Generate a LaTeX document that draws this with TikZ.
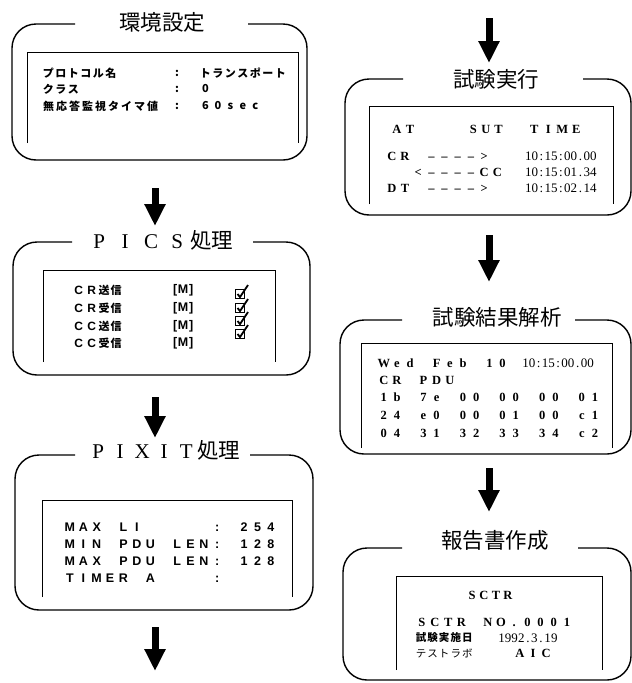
\documentclass[tikz,border=0pt]{standalone}
\usepackage{fontspec}
\usetikzlibrary{arrows.meta}
\setmainfont{Liberation Serif}
\setsansfont{Liberation Sans}
\newfontfamily\jp{Noto Sans CJK JP}
\newlength\fwd
\makeatletter
\def\fw@loop#1{\ifx#1\relax\else\makebox[\fwd][c]{#1}\expandafter\fw@loop\fi}
\newcommand\FW[2]{\setlength\fwd{#1}\fw@loop#2\relax}
\makeatother
\newcommand\fsz[1]{\fontsize{#1}{#1}\selectfont}
\tikzset{
  frame/.style={line width=1.4pt, rounded corners=24pt},
  innerbox/.style={line width=1pt},
  title/.style={inner sep=0pt, font=\jp\fsz{21.5}},
  txt/.style={anchor=west, inner sep=0pt},
  bigarrow/.style={line width=7pt, -{Triangle[width=20pt,length=22pt]}},
  chk/.style={draw, line width=1.5pt, minimum size=9pt, inner sep=0pt},
  chkmark/.style={line width=1.8pt},
  jpb/.style={font=\jp\bfseries\fsz{11}},
  ser/.style={font=\rmfamily\bfseries\fsz{12.5}},
  serr/.style={font=\rmfamily\fsz{13}},
  san/.style={font=\sffamily\bfseries\fsz{12.5}},
}
\begin{document}
\begin{tikzpicture}[x=1pt,y=-1pt]
\useasboundingbox (0,0) rectangle (632,683);

% ---------- Box 1 ----------
\draw[frame] (75,24) -- (12,24) -- (12,160) -- (307,160) -- (307,24) -- (248,24);
\draw[innerbox] (27,143) -- (27,52) -- (298,52) -- (298,143);
\node[title] (t1) at (162,22) {環境設定};
\node[txt,jpb] (b1r1a) at (42,73) {\FW{12.5pt}{プロトコル名}};
\node[txt,jpb] (b1r1b) at (175,73) {:};
\node[txt,jpb] (b1r1c) at (199,73) {\FW{12.5pt}{トランスポート}};
\node[txt,jpb] (b1r2a) at (42,89) {\FW{12.5pt}{クラス}};
\node[txt,jpb] (b1r2b) at (175,89) {:};
\node[txt,jpb] (b1r2c) at (199,89) {\FW{12.5pt}{0}};
\node[txt,jpb] (b1r3a) at (42,106) {\FW{13pt}{無応答監視タイマ値}};
\node[txt,jpb] (b1r3b) at (175,106) {:};
\node[txt,jpb] (b1r3c) at (199,106) {\FW{12.5pt}{60sec}};

\coordinate (a1s) at (155,188);
\coordinate (a1e) at (155,226);
\draw[bigarrow] (a1s) -- (a1e);

% ---------- Box 2 ----------
\draw[frame] (72,242) -- (13,242) -- (13,375) -- (310,375) -- (310,242) -- (253,242);
\draw[innerbox] (43,362) -- (43,270) -- (275,270) -- (275,362);
\node[title,anchor=west] (t2) at (86,240) {{\rmfamily\fsz{21}\FW{26pt}{PICS}}処理};
\node[txt] (b2r1) at (72,290) {{\sffamily\bfseries\fsz{12}\FW{13pt}{CR}}{\jp\bfseries\fsz{11}\FW{12pt}{送信}}};
\node[txt] (b2r2) at (72,308) {{\sffamily\bfseries\fsz{12}\FW{13pt}{CR}}{\jp\bfseries\fsz{11}\FW{12pt}{受信}}};
\node[txt] (b2r3) at (72,326) {{\sffamily\bfseries\fsz{12}\FW{13pt}{CC}}{\jp\bfseries\fsz{11}\FW{12pt}{送信}}};
\node[txt] (b2r4) at (72,343) {{\sffamily\bfseries\fsz{12}\FW{13pt}{CC}}{\jp\bfseries\fsz{11}\FW{12pt}{受信}}};
\node[txt,san] (b2m1) at (171,290) {\FW{8pt}{[M]}};
\node[txt,san] (b2m2) at (171,308) {\FW{8pt}{[M]}};
\node[txt,san] (b2m3) at (171,326) {\FW{8pt}{[M]}};
\node[txt,san] (b2m4) at (171,343) {\FW{8pt}{[M]}};
\node[chk] (k1) at (240,294) {};
\node[chk] (k2) at (240,308) {};
\node[chk] (k3) at (240,321) {};
\node[chk] (k4) at (240,334) {};
\foreach \k in {k1,k2,k3,k4}{
  \draw[chkmark] ([shift={(-2.5,0)}]\k.center) -- ([shift={(0,3)}]\k.center) -- ([shift={(8,-9)}]\k.center);
}

\coordinate (a2s) at (155,397);
\coordinate (a2e) at (155,438);
\draw[bigarrow] (a2s) -- (a2e);

% ---------- Box 3 ----------
\draw[frame] (75,455) -- (15,455) -- (15,610) -- (313,610) -- (313,455) -- (250,455);
\draw[innerbox] (42,597) -- (42,500) -- (292,500) -- (292,597);
\node[title,anchor=west] (t3) at (87,450) {{\rmfamily\fsz{21}\FW{22pt}{PIXIT}}処理};
\node[txt,san] (b3r1) at (63,527) {\FW{13.4pt}{MAX~LI~~~~~:~254}};
\node[txt,san] (b3r2) at (63,544) {\FW{13.4pt}{MIN~PDU~LEN:~128}};
\node[txt,san] (b3r3) at (63,561) {\FW{13.4pt}{MAX~PDU~LEN:~128}};
\node[txt,san] (b3r4) at (63,578) {\FW{13.4pt}{TIMER~A~~~~:}};

\coordinate (a3s) at (155,627);
\coordinate (a3e) at (155,671);
\draw[bigarrow] (a3s) -- (a3e);

% ---------- Box 4 ----------
\coordinate (a4s) at (489,18);
\coordinate (a4e) at (489,63);
\draw[bigarrow] (a4s) -- (a4e);
\draw[frame] (403,79) -- (345,79) -- (345,215) -- (631,215) -- (631,79) -- (583,79);
\draw[innerbox] (369,204) -- (369,106) -- (613,106) -- (613,204);
\node[title] (t4) at (496,79) {試験実行};
\node[txt,ser] (b4h1) at (390,129) {\FW{13.2pt}{AT}};
\node[txt,ser] (b4h2) at (467,129) {\FW{12.5pt}{SUT}};
\node[txt,ser] (b4h3) at (527,129) {\FW{14pt}{TIME}};
\node[txt,ser] (b4r1) at (385,156) {\FW{13.2pt}{CR~––––>}};
\node[txt,ser] (b4r2) at (385,172) {\FW{13.2pt}{~~<––––CC}};
\node[txt,ser] (b4r3) at (385,188) {\FW{13.2pt}{DT~––––>}};
\node[txt,serr] (b4t1) at (525,156) {\FW{6.5pt}{10:15:00.00}};
\node[txt,serr] (b4t2) at (525,172) {\FW{6.5pt}{10:15:01.34}};
\node[txt,serr] (b4t3) at (525,188) {\FW{6.5pt}{10:15:02.14}};

\coordinate (a5s) at (489,235);
\coordinate (a5e) at (489,282);
\draw[bigarrow] (a5s) -- (a5e);

% ---------- Box 5 ----------
\draw[frame] (402,320) -- (340,320) -- (340,454) -- (631,454) -- (631,320) -- (575,320);
\draw[innerbox] (361,448) -- (361,343) -- (612,343) -- (612,448);
\node[title] (t5) at (497,317) {試験結果解析};
\node[txt,ser] (b5r1) at (377,363) {\FW{13.2pt}{Wed~Feb~10~}{\rmfamily\mdseries\fsz{13}\FW{6.5pt}{10:15:00.00}}};
\node[txt,ser] (b5r2) at (377,380) {\FW{13.2pt}{CR~PDU}};
\node[txt,ser] (b5r3) at (377,397) {\FW{13.2pt}{1b~7e~00~00~00~01}};
\node[txt,ser] (b5r4) at (377,415) {\FW{13.2pt}{24~e0~00~01~00~c1}};
\node[txt,ser] (b5r5) at (377,433) {\FW{13.2pt}{04~31~32~33~34~c2}};

\coordinate (a6s) at (489,468);
\coordinate (a6e) at (489,512);
\draw[bigarrow] (a6s) -- (a6e);

% ---------- Box 6 ----------
\draw[frame] (402,548) -- (343,548) -- (343,680) -- (631,680) -- (631,548) -- (578,548);
\draw[innerbox] (396,670) -- (396,576) -- (602,576) -- (602,670);
\node[title] (t6) at (495,540) {報告書作成};
\node[ser,inner sep=0pt] (b6h) at (490,595) {\FW{12pt}{SCTR}};
\node[txt,ser] (b6r1) at (415,622) {\FW{13.2pt}{SCTR~NO.0001}};
\node[txt,font=\jp\bfseries\fsz{10.5}] (b6r2a) at (415,638) {\FW{11.6pt}{試験実施日}};
\node[txt,serr] (b6r2b) at (498,638) {\FW{6.6pt}{1992.3.19}};
\node[txt,font=\jp\fsz{10.5}] (b6r3a) at (415,653) {\FW{11.6pt}{テストラボ}};
\node[txt,ser] (b6r3b) at (513,653) {\FW{13.2pt}{AIC}};
\end{tikzpicture}
\end{document}
